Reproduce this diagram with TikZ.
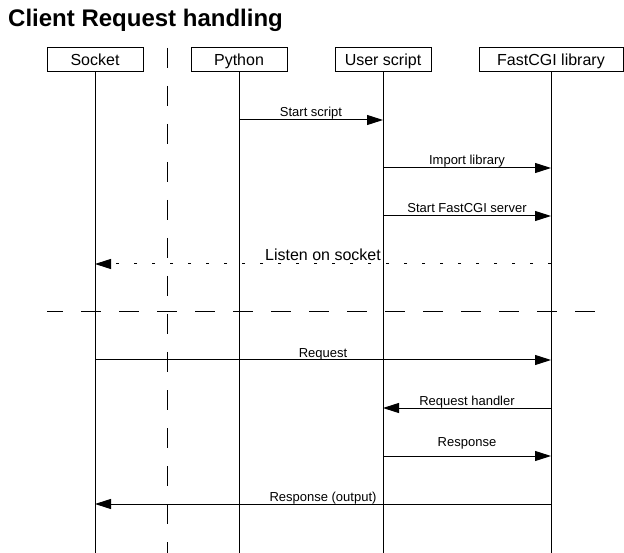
\documentclass[tikz,border=0pt]{standalone}
\usepackage{fontspec}
\setmainfont{Liberation Sans}
\usetikzlibrary{arrows.meta}
\begin{document}
\begin{tikzpicture}[x=1pt,y=-1pt,
  actor/.style={draw,line width=1pt,minimum width=96pt,minimum height=24pt,inner sep=0pt,text height=13.5pt,text depth=1.5pt,font=\fontsize{16}{18}\selectfont},
  wideactor/.style={actor,minimum width=144pt},
  life/.style={line width=1pt},
  msg/.style={line width=1pt,-{Triangle[length=16pt,width=10pt]}},
  dotmsg/.style={msg,dash pattern=on 3pt off 15pt},
  lbl/.style={anchor=base,inner sep=0pt,font=\fontsize{13}{15}\selectfont},
  biglbl/.style={anchor=base,inner sep=0pt,font=\fontsize{16}{18}\selectfont},
  sep/.style={line width=1pt,dash pattern=on 20pt off 18pt}]
\useasboundingbox[fill=white] (0,0) rectangle (624,553);
\node[anchor=base west,inner sep=0pt,font=\bfseries\fontsize{24}{28}\selectfont] (title) at (8,27) {Client Request handling};
\node[actor] (sock) at (95,60) {Socket};
\node[actor] (py) at (239,60) {Python};
\node[actor] (us) at (383,60) {User script};
\node[wideactor] (fc) at (551,60) {FastCGI library};
\coordinate (bot) at (0,553);
\foreach \n in {sock,py,us,fc} \draw[life] (\n.south) -- (\n.south |- bot);
\coordinate (vtop) at (167,48);
\coordinate (vbot) at (167,553);
\draw[sep] (vtop) -- (vbot);
\coordinate (hl) at (47,312);
\coordinate (hr) at (600,312);
\draw[sep,dash phase=4pt] (hl) -- (hr);
% rows
\coordinate (r1) at (0,120);
\coordinate (r2) at (0,168);
\coordinate (r3) at (0,216);
\coordinate (r4) at (0,264);
\coordinate (r5) at (0,360);
\coordinate (r6) at (0,408);
\coordinate (r7) at (0,456);
\coordinate (r8) at (0,504);
\draw[msg] (py |- r1) -- node[lbl,yshift=3pt]{Start script} (us |- r1);
\draw[msg] (us |- r2) -- node[lbl,yshift=3pt]{Import library} (fc |- r2);
\draw[msg] (us |- r3) -- node[lbl,yshift=3pt]{Start FastCGI server} (fc |- r3);
\draw[dotmsg] (fc |- r4) -- node[biglbl,yshift=3pt]{Listen on socket} (sock |- r4);
\draw[msg] (sock |- r5) -- node[lbl,yshift=3pt]{Request} (fc |- r5);
\draw[msg] (fc |- r6) -- node[lbl,yshift=3pt]{Request handler} (us |- r6);
\draw[msg] (us |- r7) -- node[lbl,yshift=10pt]{Response} (fc |- r7);
\draw[msg] (fc |- r8) -- node[lbl,yshift=3pt]{Response (output)} (sock |- r8);
\end{tikzpicture}
\end{document}
